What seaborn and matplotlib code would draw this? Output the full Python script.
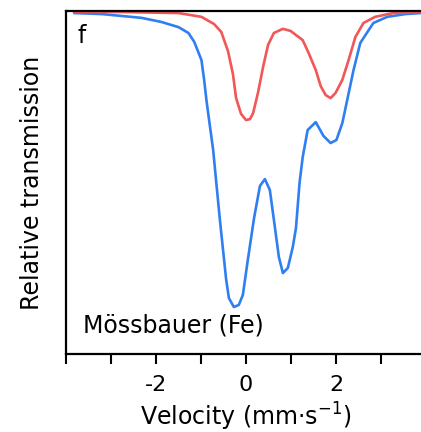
import numpy as np
import pandas as pd
import matplotlib

matplotlib.use("Agg")

import matplotlib.pyplot as plt
import seaborn as sns

# velocity (mm/s) and relative transmission
blue_v = [-3.82, -3.20, -2.32, -1.88, -1.50, -1.28, -1.15, -0.99, -0.93, -0.88,
          -0.82, -0.73, -0.66, -0.58, -0.51, -0.44, -0.38, -0.27, -0.16, -0.07,
          0.04, 0.18, 0.31, 0.42, 0.53, 0.62, 0.73, 0.82, 0.93, 1.04,
          1.11, 1.19, 1.26, 1.37, 1.55, 1.72, 1.88, 2.01, 2.14, 2.25,
          2.39, 2.54, 2.83, 3.14, 3.54, 3.89, 4.0]
blue_t = [0.994, 0.991, 0.980, 0.968, 0.953, 0.936, 0.910, 0.857, 0.799, 0.741,
          0.682, 0.595, 0.499, 0.391, 0.303, 0.216, 0.163, 0.137, 0.143, 0.172,
          0.274, 0.397, 0.490, 0.510, 0.478, 0.391, 0.283, 0.236, 0.251, 0.312,
          0.367, 0.499, 0.574, 0.653, 0.676, 0.636, 0.615, 0.624, 0.673, 0.741,
          0.828, 0.907, 0.965, 0.983, 0.991, 0.994, 0.994]

red_v = [-3.80, -2.76, -1.50, -0.99, -0.71, -0.55, -0.40, -0.29, -0.22, -0.11,
         0.0, 0.09, 0.16, 0.27, 0.38, 0.49, 0.62, 0.82, 0.99, 1.26,
         1.39, 1.55, 1.66, 1.77, 1.88, 1.99, 2.14, 2.28, 2.43, 2.61,
         2.87, 3.27, 3.89, 4.0]
red_t = [0.997, 0.997, 0.994, 0.983, 0.962, 0.939, 0.883, 0.816, 0.746, 0.700,
         0.682, 0.685, 0.703, 0.764, 0.837, 0.901, 0.936, 0.948, 0.942, 0.915,
         0.878, 0.828, 0.781, 0.755, 0.746, 0.761, 0.799, 0.857, 0.924, 0.965,
         0.983, 0.994, 0.997, 0.997]

tick_pos = list(range(-4, 5))
tick_labels = ["", "", "-2", "", "0", "", "2", "", ""]

sns.set_style("white")
plt.rcParams["font.family"] = ["DejaVu Sans"]
plt.rcParams["axes.unicode_minus"] = False
plt.rcParams["text.color"] = "black"
plt.rcParams["axes.labelcolor"] = "black"
plt.rcParams["xtick.color"] = "black"

blue_df = pd.DataFrame({"v": blue_v, "t": blue_t})
red_df = pd.DataFrame({"v": red_v, "t": red_t})

fig = plt.figure(figsize=(4.21, 4.32), dpi=100)
ax = fig.add_axes([66 / 421, 78 / 432, 360 / 421, 343 / 432])

sns.lineplot(data=blue_df, x="v", y="t", ax=ax, color="#2F7FF2", lw=1.9, sort=False)
sns.lineplot(data=red_df, x="v", y="t", ax=ax, color="#F25656", lw=1.9, sort=False)

ax.set_xlim(-4, 4)
ax.set_ylim(0, 1.0)
ax.set_yticks([])
ax.set_xticks(tick_pos)
ax.set_xticklabels(tick_labels)
ax.tick_params(axis="x", direction="out", length=7, width=1.5, pad=8,
               labelsize=16, labelcolor="black", color="black", bottom=True)

for side in ["left", "bottom", "top"]:
    ax.spines[side].set_color("black")
    ax.spines[side].set_linewidth(1.6)
ax.spines["right"].set_visible(False)

ax.set_xlabel("Velocity (mm·s$^{-1}$)", fontsize=17, labelpad=4)
ax.set_ylabel("Relative transmission", fontsize=17, labelpad=16)

ax.text(0.033, 0.907, "f", transform=ax.transAxes, fontsize=17, va="baseline")
ax.text(0.047, 0.064, "Mössbauer (Fe)", transform=ax.transAxes, fontsize=17, va="baseline")

fig.savefig("out.png", dpi=100)
